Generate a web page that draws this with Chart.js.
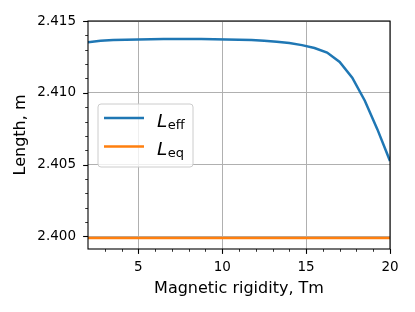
<!DOCTYPE html>
<html>
<head>
<meta charset="utf-8">
<script src="https://cdn.jsdelivr.net/npm/chart.js@4/dist/chart.umd.min.js"></script>
<style>
  html, body { margin: 0; padding: 0; background: #fff; }
  #wrap { width: 415px; height: 312px; }
</style>
</head>
<body>
<div id="wrap"><canvas id="c" width="415" height="312"></canvas></div>
<script>
// magnetic rigidity samples, Tm
const rigidity = [2, 2.75, 3.5, 4.25, 5, 5.75, 6.5, 7.25, 8, 8.75, 9.5, 10.25, 11,
  11.75, 12.5, 13.25, 14, 14.75, 15.5, 16.25, 17, 17.75, 18.5, 19.25, 20];
// effective length, m
const lengthEff = [2.41352, 2.41362, 2.41367, 2.41370, 2.41372, 2.41373, 2.41374, 2.41374,
  2.41374, 2.41374, 2.41373, 2.41372, 2.41370, 2.41367, 2.41362, 2.41355, 2.41346,
  2.41332, 2.41312, 2.41280, 2.41215, 2.41105, 2.40945, 2.40745, 2.40525];
// equivalent length, m (constant)
const lengthEq = [2.39988, 2.39988, 2.39988, 2.39988, 2.39988, 2.39988, 2.39988, 2.39988,
  2.39988, 2.39988, 2.39988, 2.39988, 2.39988, 2.39988, 2.39988, 2.39988, 2.39988,
  2.39988, 2.39988, 2.39988, 2.39988, 2.39988, 2.39988, 2.39988, 2.39988];

const xTicks = [5, 10, 15, 20];
const xMinorTicks = [3, 4, 6, 7, 8, 9, 11, 12, 13, 14, 16, 17, 18, 19];
const yTicks = [2.400, 2.405, 2.410, 2.415];
const yMinorTicks = [2.401, 2.402, 2.403, 2.404, 2.406, 2.407, 2.408, 2.409,
  2.411, 2.412, 2.413, 2.414];

const FONT = "'DejaVu Sans', sans-serif";
const toPoints = (ys) => rigidity.map((x, i) => ({ x, y: ys[i] }));

// spines + matplotlib-style tick marks
const framePlugin = {
  id: "frame",
  afterDatasetsDraw(chart) {
    const { ctx, chartArea: a, scales } = chart;
    ctx.save();
    ctx.strokeStyle = "#000";
    const tick = (x1, y1, x2, y2, w) => {
      ctx.lineWidth = w;
      ctx.beginPath(); ctx.moveTo(x1, y1); ctx.lineTo(x2, y2); ctx.stroke();
    };
    xTicks.forEach((v) => { const p = Math.round(scales.x.getPixelForValue(v)) + 0.5; tick(p, a.bottom, p, a.bottom + 4.9, 1.1); });
    xMinorTicks.forEach((v) => { const p = Math.round(scales.x.getPixelForValue(v)) + 0.5; tick(p, a.bottom, p, a.bottom + 2.8, 0.8); });
    yTicks.forEach((v) => { const p = Math.round(scales.y.getPixelForValue(v)) + 0.5; tick(a.left, p, a.left - 4.9, p, 1.1); });
    yMinorTicks.forEach((v) => { const p = Math.round(scales.y.getPixelForValue(v)) + 0.5; tick(a.left, p, a.left - 2.8, p, 0.8); });
    ctx.lineWidth = 1.1;
    ctx.strokeRect(a.left, a.top, a.right - a.left, a.bottom - a.top);
    ctx.restore();
  },
};

// legend with italic L and subscript
const mathLegend = {
  id: "mathLegend",
  afterDraw(chart) {
    const { ctx, chartArea: a } = chart;
    const bx = a.left + 10, by = a.top + 83, bw = 95, bh = 63, r = 3;
    ctx.save();
    ctx.beginPath();
    ctx.moveTo(bx + r, by);
    ctx.arcTo(bx + bw, by, bx + bw, by + bh, r);
    ctx.arcTo(bx + bw, by + bh, bx, by + bh, r);
    ctx.arcTo(bx, by + bh, bx, by, r);
    ctx.arcTo(bx, by, bx + bw, by, r);
    ctx.closePath();
    ctx.fillStyle = "rgba(255,255,255,0.8)";
    ctx.fill();
    ctx.strokeStyle = "#cccccc";
    ctx.lineWidth = 1;
    ctx.stroke();

    chart.data.datasets.forEach((ds, i) => {
      const cy = by + 14 + i * 28.4;
      ctx.strokeStyle = ds.borderColor;
      ctx.lineWidth = 2.5;
      ctx.beginPath(); ctx.moveTo(bx + 6, cy); ctx.lineTo(bx + 46, cy); ctx.stroke();
      const [main, sub] = ds.label.split("_");
      ctx.fillStyle = "#000";
      ctx.textBaseline = "alphabetic";
      ctx.font = "oblique 18.5px " + FONT;
      ctx.fillText(main, bx + 59, cy + 8.5);
      const w = ctx.measureText(main).width;
      ctx.font = "13px " + FONT;
      ctx.fillText(sub, bx + 59 + w + 0.5, cy + 10.5);
    });
    ctx.restore();
  },
};

new Chart(document.getElementById("c"), {
  type: "line",
  data: {
    datasets: [
      { label: "L_eff", data: toPoints(lengthEff), borderColor: "#1f77b4", borderWidth: 2.5, pointRadius: 0, tension: 0 },
      { label: "L_eq", data: toPoints(lengthEq), borderColor: "#ff7f0e", borderWidth: 2.5, pointRadius: 0, tension: 0 },
    ],
  },
  options: {
    responsive: false,
    animation: false,
    events: [],
    layout: { padding: { top: 21, right: 25, left: 0, bottom: 0 } },
    plugins: { legend: { display: false }, tooltip: { enabled: false } },
    scales: {
      x: {
        type: "linear",
        min: 2,
        max: 20,
        afterBuildTicks: (s) => { s.ticks = xTicks.map((v) => ({ value: v })); },
        afterFit: (s) => { s.height = 63; },
        ticks: { color: "#000", font: { family: FONT, size: 13.5 }, padding: 10, maxRotation: 0, autoSkip: false, callback: (v) => String(v) },
        grid: { color: "#b0b0b0", lineWidth: 1, drawTicks: false },
        border: { display: false },
        title: { display: true, text: "Magnetic rigidity, Tm", color: "#000", font: { family: FONT, size: 16 }, padding: { top: 0, bottom: 14 } },
      },
      y: {
        min: 2.39912,
        max: 2.415,
        afterBuildTicks: (s) => { s.ticks = yTicks.map((v) => ({ value: v })); },
        afterFit: (s) => { s.width = 88; },
        ticks: { color: "#000", font: { family: FONT, size: 13.5 }, padding: 12, callback: (v) => v.toFixed(3) },
        grid: { color: "#b0b0b0", lineWidth: 1, drawTicks: false },
        border: { display: false },
        title: { display: true, text: "Length, m", color: "#000", font: { family: FONT, size: 16 }, padding: { top: 11, bottom: 0 } },
      },
    },
  },
  plugins: [framePlugin, mathLegend],
});
</script>
</body>
</html>
